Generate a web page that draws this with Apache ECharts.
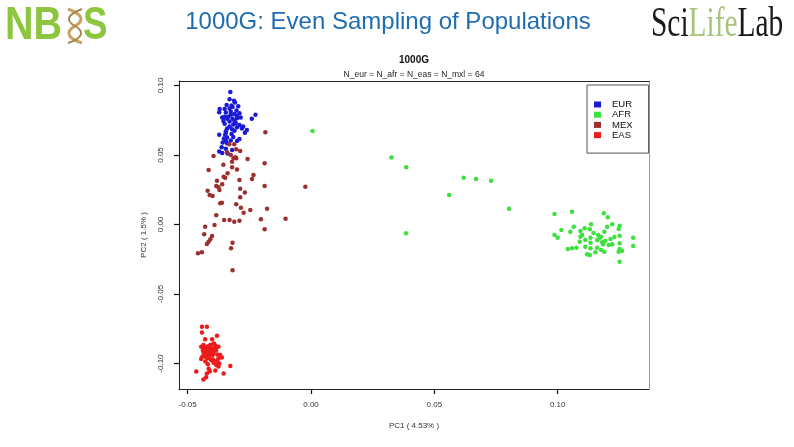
<!DOCTYPE html>
<html>
<head>
<meta charset="utf-8">
<title>1000G PCA</title>
<script src="https://cdn.jsdelivr.net/npm/echarts@6/dist/echarts.min.js"></script>
<style>
  html, body { margin: 0; padding: 0; background: #fff; }
  #chart { width: 794px; height: 447px; }
</style>
</head>
<body>
<div id="chart"></div>
<script>
// populations in legend order
const populations = ['EUR', 'AFR', 'MEX', 'EAS'];
const popColors = ['#1a1ad6', '#3de03d', '#9c3030', '#ec1c1c'];

// tick positions (PC1, PC2)
const xTicks = [-0.05, 0, 0.05, 0.10];
const yTicks = [-0.10, -0.05, 0, 0.05, 0.10];

// [PC1, PC2]
const eur = [
  [-0.0327, 0.0953], [-0.0330, 0.0900], [-0.0312, 0.0890], [-0.0308, 0.0878],
  [-0.0342, 0.0860], [-0.0322, 0.0855], [-0.0295, 0.0850], [-0.0370, 0.0830],
  [-0.0372, 0.0808], [-0.0350, 0.0830], [-0.0330, 0.0835], [-0.0318, 0.0845],
  [-0.0302, 0.0820], [-0.0290, 0.0800], [-0.0345, 0.0805], [-0.0325, 0.0810],
  [-0.0310, 0.0795], [-0.0300, 0.0780], [-0.0225, 0.0790], [-0.0240, 0.0760],
  [-0.0360, 0.0770], [-0.0340, 0.0760], [-0.0318, 0.0760], [-0.0300, 0.0765],
  [-0.0285, 0.0770], [-0.0355, 0.0745], [-0.0330, 0.0740], [-0.0310, 0.0745],
  [-0.0350, 0.0725], [-0.0330, 0.0705], [-0.0315, 0.0720], [-0.0290, 0.0715],
  [-0.0275, 0.0705], [-0.0280, 0.0690], [-0.0300, 0.0700], [-0.0340, 0.0690],
  [-0.0320, 0.0685], [-0.0345, 0.0670], [-0.0310, 0.0675], [-0.0260, 0.0680],
  [-0.0268, 0.0660], [-0.0345, 0.0660], [-0.0372, 0.0645], [-0.0348, 0.0645],
  [-0.0340, 0.0625], [-0.0353, 0.0618], [-0.0290, 0.0615], [-0.0345, 0.0600],
  [-0.0325, 0.0605], [-0.0358, 0.0590], [-0.0340, 0.0585], [-0.0300, 0.0600],
  [-0.0362, 0.0555], [-0.0345, 0.0545], [-0.0372, 0.0525], [-0.0360, 0.0515],
  [-0.0320, 0.0535], [-0.0338, 0.0510], [-0.0325, 0.0790], [-0.0335, 0.0775],
  [-0.0305, 0.0730], [-0.0322, 0.0650], [-0.0315, 0.0630], [-0.0350, 0.0775]
];

const afr = [
  [0.0006, 0.0673], [0.0326, 0.0481], [0.0386, 0.0411], [0.0619, 0.0337],
  [0.0669, 0.0327], [0.0730, 0.0315], [0.0560, 0.0212], [0.0803, 0.0114],
  [0.0385, -0.0063],
  [0.0987, 0.0076], [0.1058, 0.0092], [0.1187, 0.0081], [0.1203, 0.0052],
  [0.1015, -0.0040], [0.1065, -0.0016], [0.1051, -0.0052], [0.1092, -0.0047],
  [0.1109, -0.0027], [0.1135, 0.0001], [0.1130, -0.0035],
  [0.0987, -0.0076], [0.1000, -0.0095], [0.1092, -0.0088], [0.1099, -0.0076],
  [0.1133, -0.0095], [0.1164, -0.0076], [0.1169, -0.0099], [0.1176, -0.0088],
  [0.1189, -0.0052], [0.1200, -0.0016], [0.1221, 0.0001], [0.1251, -0.0009],
  [0.1247, -0.0032], [0.1251, -0.0081], [0.1306, -0.0095],
  [0.1089, -0.0124], [0.1133, -0.0131], [0.1160, -0.0112], [0.1180, -0.0128],
  [0.1193, -0.0119], [0.1184, -0.0142], [0.1214, -0.0104], [0.1221, -0.0142],
  [0.1207, -0.0147], [0.1112, -0.0160], [0.1133, -0.0171], [0.1251, -0.0135],
  [0.1306, -0.0155], [0.1041, -0.0176], [0.1058, -0.0171], [0.1076, -0.0167],
  [0.1160, -0.0167], [0.1176, -0.0183], [0.1153, -0.0200], [0.1189, -0.0196],
  [0.1251, -0.0176], [0.1261, -0.0188], [0.1247, -0.0196], [0.1119, -0.0214],
  [0.1130, -0.0219], [0.1251, -0.0268],
  [0.1145, -0.0061], [0.1112, -0.0112], [0.1230, -0.0090]
];

const mex = [
  [-0.0185, 0.0663], [-0.0331, 0.0577], [-0.0311, 0.0577], [-0.0303, 0.0541],
  [-0.0287, 0.0529], [-0.0395, 0.0493], [-0.0314, 0.0476], [-0.0307, 0.0483],
  [-0.0303, 0.0476], [-0.0320, 0.0452], [-0.0257, 0.0471], [-0.0188, 0.0440],
  [-0.0320, 0.0412], [-0.0415, 0.0392], [-0.0338, 0.0368], [-0.0233, 0.0356],
  [-0.0239, 0.0327], [-0.0354, 0.0344], [-0.0348, 0.0337], [-0.0381, 0.0315],
  [-0.0290, 0.0320], [-0.0384, 0.0277], [-0.0375, 0.0268], [-0.0371, 0.0248],
  [-0.0188, 0.0277], [-0.0287, 0.0258], [-0.0419, 0.0243], [-0.0411, 0.0212],
  [-0.0399, 0.0205], [-0.0287, 0.0196], [-0.0368, 0.0153], [-0.0361, 0.0157],
  [-0.0303, 0.0145], [-0.0284, 0.0121], [-0.0178, 0.0114], [-0.0246, 0.0104],
  [-0.0273, 0.0085], [-0.0384, 0.0066], [-0.0352, 0.0032], [-0.0330, 0.0032],
  [-0.0311, 0.0020], [-0.0290, 0.0027], [-0.0203, 0.0037], [-0.0103, 0.0042],
  [-0.0429, -0.0016], [-0.0391, -0.0004], [-0.0188, -0.0035], [-0.0433, -0.0071],
  [-0.0401, -0.0083], [-0.0408, -0.0106], [-0.0415, -0.0124], [-0.0422, -0.0140],
  [-0.0318, -0.0131], [-0.0324, -0.0171], [-0.0442, -0.0200], [-0.0458, -0.0207],
  [-0.0318, -0.0329], [-0.0023, 0.0272], [-0.0340, 0.0520], [-0.0325, 0.0500],
  [-0.0355, 0.0430], [-0.0300, 0.0395], [-0.0360, 0.0290], [-0.0268, 0.0230]
];

const eas = [
  [-0.0442, -0.0735], [-0.0422, -0.0735], [-0.0442, -0.0776], [-0.0381, -0.0800],
  [-0.0429, -0.0826], [-0.0401, -0.0826], [-0.0395, -0.0855],
  [-0.0436, -0.0867], [-0.0422, -0.0879], [-0.0408, -0.0867], [-0.0388, -0.0872],
  [-0.0375, -0.0879],
  [-0.0432, -0.0890], [-0.0420, -0.0895], [-0.0410, -0.0888], [-0.0400, -0.0892],
  [-0.0390, -0.0890],
  [-0.0438, -0.0905], [-0.0428, -0.0910], [-0.0418, -0.0905], [-0.0408, -0.0900],
  [-0.0398, -0.0908],
  [-0.0435, -0.0920], [-0.0425, -0.0925], [-0.0415, -0.0920], [-0.0405, -0.0918],
  [-0.0395, -0.0925],
  [-0.0430, -0.0938], [-0.0420, -0.0942], [-0.0410, -0.0935], [-0.0400, -0.0940],
  [-0.0440, -0.0950], [-0.0425, -0.0955], [-0.0412, -0.0950],
  [-0.0368, -0.0939], [-0.0375, -0.0963], [-0.0361, -0.0956],
  [-0.0397, -0.0970], [-0.0381, -0.0980],
  [-0.0372, -0.0999], [-0.0384, -0.1010], [-0.0375, -0.1022], [-0.0327, -0.1018],
  [-0.0465, -0.1057], [-0.0415, -0.1038], [-0.0410, -0.1055], [-0.0422, -0.1071],
  [-0.0388, -0.1050], [-0.0354, -0.1071], [-0.0425, -0.1099], [-0.0436, -0.1114],
  [-0.0445, -0.0880], [-0.0392, -0.0860], [-0.0415, -0.0875], [-0.0433, -0.0930],
  [-0.0402, -0.0928], [-0.0418, -0.0962], [-0.0405, -0.0975], [-0.0385, -0.0905],
  [-0.0380, -0.0935], [-0.0428, -0.0985], [-0.0418, -0.1005], [-0.0395, -0.0995],
  [-0.0445, -0.0968]
];

const popData = [eur, afr, mex, eas];

const xRange = [-0.0535, 0.137];
const yRange = [-0.1183, 0.1032];

const chart = echarts.init(document.getElementById('chart'));

const axisText = { fontSize: 8, color: '#333', fontFamily: 'Liberation Sans' };
const fmt = (v) => v.toFixed(2);

// little helix between "NB" and "S"
const helix = (x1, y1, cx1, cy1, cx2, cy2, x2, y2, color, w) => ({
  type: 'bezierCurve',
  shape: { x1: x1, y1: y1, cpx1: cx1, cpy1: cy1, cpx2: cx2, cpy2: cy2, x2: x2, y2: y2 },
  style: { fill: 'none', stroke: color, lineWidth: w }
});

const option = {
  animation: false,
  backgroundColor: '#fff',
  textStyle: { fontFamily: 'Liberation Sans' },
  grid: { left: 179, right: 145, top: 81, bottom: 58 },
  graphic: [
    // NBIS logo
    {
      type: 'text', x: 5, y: 26, scaleX: 0.84,
      style: { text: 'NB', font: 'bold 47px "Liberation Sans"', fill: '#8cc63f', textVerticalAlign: 'middle' }
    },
    helix(68, 9, 84, 15, 84, 21, 75, 26, '#c9a266', 3),
    helix(75, 26, 66, 31, 66, 38, 82, 43, '#c9a266', 3),
    helix(82, 9, 66, 15, 66, 21, 75, 26, '#a8864e', 2),
    helix(75, 26, 84, 31, 84, 38, 68, 43, '#a8864e', 2),
    {
      type: 'text', x: 83, y: 26, scaleX: 0.78,
      style: { text: 'S', font: 'bold 47px "Liberation Sans"', fill: '#8cc63f', textVerticalAlign: 'middle' }
    },
    // header title
    {
      type: 'text', x: 388, y: 22,
      style: {
        text: '1000G: Even Sampling of Populations',
        font: '24px "Liberation Sans"', fill: '#1f6cb0',
        textAlign: 'center', textVerticalAlign: 'middle'
      }
    },
    // SciLifeLab logo
    {
      type: 'text', x: 651, y: 25, scaleX: 0.7,
      style: {
        text: '{a|Sci}{b|Life}{a|Lab}',
        textVerticalAlign: 'middle',
        rich: {
          a: { fontSize: 42, fontFamily: 'Liberation Serif', fill: '#1a1a1a' },
          b: { fontSize: 42, fontFamily: 'Liberation Serif', fill: '#a9c47c' }
        }
      }
    },
    // plot title and subtitle
    {
      type: 'text', x: 414, y: 60,
      style: { text: '1000G', font: 'bold 10px "Liberation Sans"', fill: '#111', textAlign: 'center', textVerticalAlign: 'middle' }
    },
    {
      type: 'text', x: 414, y: 75,
      style: { text: 'N_eur = N_afr = N_eas = N_mxl = 64', font: '8.5px "Liberation Sans"', fill: '#222', textAlign: 'center', textVerticalAlign: 'middle' }
    }
  ],
  legend: {
    data: populations,
    orient: 'vertical',
    left: 587,
    top: 85,
    selectedMode: false,
    icon: 'rect',
    itemWidth: 7,
    itemHeight: 6,
    itemGap: 0.2,
    borderColor: '#555',
    borderWidth: 1,
    padding: [14.5, 16, 13, 7],
    textStyle: { fontSize: 9.5, lineHeight: 9, color: '#111', padding: [0, 0, 0, 6] }
  },
  xAxis: [
    {
      type: 'value', min: xRange[0], max: xRange[1], position: 'bottom',
      axisLine: { onZero: false, lineStyle: { color: '#222', width: 1 } },
      axisTick: { show: true, customValues: xTicks, length: 5, lineStyle: { color: '#111', width: 1.2 } },
      axisLabel: Object.assign({ customValues: xTicks, formatter: fmt, margin: 12 }, axisText),
      splitLine: { show: false },
      name: 'PC1 ( 4.53% )', nameLocation: 'middle', nameGap: 33, nameTextStyle: axisText
    },
    {
      type: 'value', min: xRange[0], max: xRange[1], position: 'top',
      axisLine: { onZero: false, lineStyle: { color: '#222', width: 1 } },
      axisTick: { show: false }, axisLabel: { show: false }, splitLine: { show: false }
    }
  ],
  yAxis: [
    {
      type: 'value', min: yRange[0], max: yRange[1], position: 'left',
      axisLine: { onZero: false, lineStyle: { color: '#222', width: 1 } },
      axisTick: { show: true, customValues: yTicks, length: 5, lineStyle: { color: '#111', width: 1.2 } },
      axisLabel: Object.assign({ customValues: yTicks, formatter: fmt, rotate: 90, margin: 14 }, axisText),
      splitLine: { show: false },
      name: 'PC2 ( 1.5% )', nameLocation: 'middle', nameGap: 31, nameTextStyle: axisText
    },
    {
      type: 'value', min: yRange[0], max: yRange[1], position: 'right',
      axisLine: { onZero: false, lineStyle: { color: '#999', width: 1 } },
      axisTick: { show: false }, axisLabel: { show: false }, splitLine: { show: false }
    }
  ],
  series: populations.map((name, i) => ({
    name: name,
    type: 'scatter',
    data: popData[i],
    symbolSize: 4.5,
    itemStyle: { color: popColors[i], opacity: 1 }
  }))
};

chart.setOption(option);
</script>
</body>
</html>
